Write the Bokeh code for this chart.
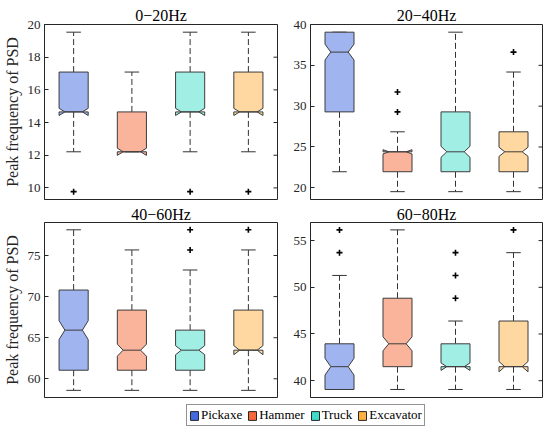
from bokeh.plotting import figure
from bokeh.models import FixedTicker, Range1d, Legend, LegendItem
from bokeh.layouts import column, row
from bokeh.embed import file_html
from bokeh.resources import INLINE

groups = ["Pickaxe", "Hammer", "Truck", "Excavator"]
base_colors = ["#4169E1", "#F4683A", "#40DCC8", "#FDB040"]

bands = ["0\u221220Hz", "20\u221240Hz", "40\u221260Hz", "60\u221280Hz"]

# per band: lists over groups
b1_wlo = [12.21, 12.21, 12.21, 12.21]
b1_q1 = [14.65, 12.21, 14.65, 14.65]
b1_med = [14.65, 12.21, 14.65, 14.65]
b1_q3 = [17.09, 14.65, 17.09, 17.09]
b1_whi = [19.53, 17.09, 19.53, 19.53]
b1_nlo = [14.43, 11.99, 14.43, 14.43]
b1_nhi = [14.87, 12.43, 14.87, 14.87]
b1_out = [[9.77], [], [9.77], [9.77]]
b1_ticks = [10, 12, 14, 16, 18, 20]

b2_wlo = [21.97, 19.53, 19.53, 19.53]
b2_q1 = [29.30, 21.97, 21.97, 21.97]
b2_med = [36.62, 24.41, 24.41, 24.41]
b2_q3 = [39.06, 24.41, 29.30, 26.86]
b2_whi = [39.06, 26.86, 39.06, 34.18]
b2_nlo = [35.65, 24.15, 23.73, 23.85]
b2_nhi = [37.59, 24.67, 25.09, 24.97]
b2_out = [[], [29.30, 31.74], [], [36.62]]
b2_ticks = [20, 25, 30, 35, 40]

b3_wlo = [58.59, 58.59, 58.59, 58.59]
b3_q1 = [61.04, 61.04, 61.04, 63.48]
b3_med = [65.92, 63.48, 63.48, 63.48]
b3_q3 = [70.80, 68.36, 65.92, 68.36]
b3_whi = [78.13, 75.68, 73.24, 75.68]
b3_nlo = [64.77, 62.75, 62.93, 62.93]
b3_nhi = [67.07, 64.21, 64.03, 64.03]
b3_out = [[], [], [75.68, 78.13], [78.13]]
b3_ticks = [60, 65, 70, 75]

b4_wlo = [39.06, 39.06, 39.06, 39.06]
b4_q1 = [39.06, 41.50, 41.50, 41.50]
b4_med = [41.50, 43.95, 41.50, 41.50]
b4_q3 = [43.95, 48.83, 43.95, 46.39]
b4_whi = [51.27, 56.15, 46.39, 53.71]
b4_nlo = [40.60, 43.20, 41.10, 40.95]
b4_nhi = [42.40, 44.70, 41.90, 42.05]
b4_out = [[53.71, 56.15], [], [48.83, 51.27, 53.71], [56.15]]
b4_ticks = [40, 45, 50, 55]

AX = "#262626"
EDGE = "#3c3c3c"
FONT = "Liberation Serif"

def hex_alpha(c, a=0.5):
    r, g, b = int(c[1:3], 16), int(c[3:5], 16), int(c[5:7], 16)
    f = lambda v: int(round(255 - (255 - v) * a))
    return "#%02x%02x%02x" % (f(r), f(g), f(b))

def panel(title, wlo, q1, med, q3, whi, nlo, nhi, outs, ticks, yr, width, height,
          bl, br, bt, bb, tstand, ylabel=None):
    p = figure(width=width, height=height, x_range=Range1d(0.5, 4.5), y_range=Range1d(*yr),
               toolbar_location=None, output_backend="svg",
               min_border_left=bl, min_border_right=br, min_border_top=bt, min_border_bottom=bb)
    p.title.text = title
    p.title.align = "center"
    p.title.text_font = FONT
    p.title.text_font_size = "16px"
    p.title.text_font_style = "normal"
    p.title.text_color = "#000000"
    p.title.standoff = tstand
    p.xaxis.visible = False
    p.xgrid.grid_line_color = None
    p.ygrid.grid_line_color = None
    p.outline_line_color = AX
    p.outline_line_width = 1
    p.outline_line_alpha = 1
    ya = p.yaxis[0]
    ya.ticker = FixedTicker(ticks=ticks)
    ya.major_tick_in = 4
    ya.major_tick_out = 0
    ya.minor_tick_line_color = None
    ya.axis_line_color = AX
    ya.major_tick_line_color = AX
    ya.major_label_text_font = FONT
    ya.major_label_text_font_size = "13px"
    ya.major_label_text_color = AX
    ya.major_label_standoff = 4
    if ylabel:
        ya.axis_label = ylabel
        ya.axis_label_text_font = FONT
        ya.axis_label_text_font_size = "16px"
        ya.axis_label_text_font_style = "normal"
        ya.axis_label_text_color = AX
        ya.axis_label_standoff = 4

    hw = 0.25   # half box width
    d = 0.1     # notch indent
    cap = 0.125
    tick_len = 4 * (4.0 / 234)
    # right-side inner ticks
    p.segment(x0=[4.5 - tick_len] * len(ticks), y0=ticks, x1=[4.5] * len(ticks), y1=ticks,
              line_color=AX, line_width=1)
    xs, ys, fills = [], [], []
    for i in range(4):
        c = i + 1
        L, R = c - hw, c + hw
        xs.append([L, L, L + d, L, L, R, R, R - d, R, R])
        ys.append([q3[i], nhi[i], med[i], nlo[i], q1[i], q1[i], nlo[i], med[i], nhi[i], q3[i]])
        fills.append(hex_alpha(base_colors[i], 0.5))
    xc = [i + 1 for i in range(4)]
    p.segment(x0=xc, y0=q3, x1=xc, y1=whi, line_color="#333333", line_width=1, line_dash="6 3")
    p.segment(x0=xc, y0=q1, x1=xc, y1=wlo, line_color="#333333", line_width=1, line_dash="6 3")
    p.segment(x0=[x - cap for x in xc], y0=whi, x1=[x + cap for x in xc], y1=whi,
              line_color="#333333", line_width=1)
    p.segment(x0=[x - cap for x in xc], y0=wlo, x1=[x + cap for x in xc], y1=wlo,
              line_color="#333333", line_width=1)
    p.patches(xs=xs, ys=ys, fill_color=fills, fill_alpha=1.0, line_color=EDGE, line_width=1)
    p.segment(x0=[x - hw + d for x in xc], y0=med, x1=[x + hw - d for x in xc], y1=med,
              line_color=EDGE, line_width=1)
    ox, oy = [], []
    for i, o in enumerate(outs):
        for v in o:
            ox.append(i + 1)
            oy.append(v)
    p.scatter(x=ox, y=oy, marker="cross", size=6, line_width=1.6, line_color="#000000")
    return p

LBL = "Peak frequency of PSD"
p1 = panel(bands[0], b1_wlo, b1_q1, b1_med, b1_q3, b1_whi, b1_nlo, b1_nhi, b1_out, b1_ticks,
           (9.29, 20.0), 290, 203, 43, 13, 24, 4, 2, LBL)
p2 = panel(bands[1], b2_wlo, b2_q1, b2_med, b2_q3, b2_whi, b2_nlo, b2_nhi, b2_out, b2_ticks,
           (18.57, 40.0), 260, 203, 17, 8, 24, 4, 2)
p3 = panel(bands[2], b3_wlo, b3_q1, b3_med, b3_q3, b3_whi, b3_nlo, b3_nhi, b3_out, b3_ticks,
           (57.72, 79.02), 290, 196, 43, 13, 18, 2, 0, LBL)
p4 = panel(bands[3], b4_wlo, b4_q1, b4_med, b4_q3, b4_whi, b4_nlo, b4_nhi, b4_out, b4_ticks,
           (38.2, 56.94), 260, 196, 17, 8, 18, 2, 0)

lg = figure(width=550, height=34, x_range=Range1d(0, 1), y_range=Range1d(0, 1),
            toolbar_location=None, output_backend="svg", min_border=0)
lg.axis.visible = False
lg.xgrid.grid_line_color = None
lg.ygrid.grid_line_color = None
lg.outline_line_color = None
items = []
for g, c in zip(groups, base_colors):
    # dummy glyph placed outside the visible range, only used for the legend swatch
    r = lg.quad(left=[5], right=[6], top=[6], bottom=[5], fill_color=c, line_color=AX, line_width=1)
    items.append(LegendItem(label=g, renderers=[r]))
leg = Legend(items=items, orientation="horizontal", location=(186, 7),
             label_text_font=FONT, label_text_font_size="13px", label_text_color="#000000",
             glyph_width=10, glyph_height=11, label_height=12, label_width=10,
             label_standoff=2, spacing=5, padding=2, margin=0,
             border_line_color=AX, border_line_width=1, background_fill_alpha=1)
lg.add_layout(leg)

layout = column(row(p1, p2), row(p3, p4), lg)
open("out.html", "w").write(file_html(layout, INLINE))
